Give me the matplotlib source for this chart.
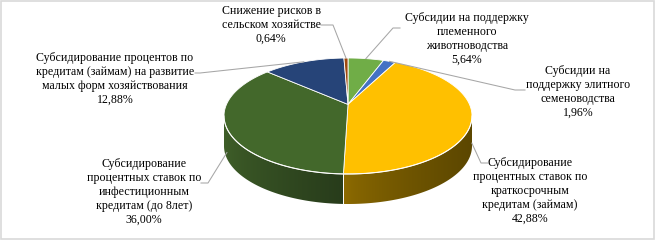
import numpy as np
import matplotlib.pyplot as plt
from matplotlib.colors import to_rgb
from matplotlib.patches import Polygon, Rectangle

plt.rcParams['font.family'] = ['Liberation Serif', 'DejaVu Serif']

# data, clockwise from 12 o'clock
labels = ['Субсидии на поддержку\nплеменного\nживотноводства',
          'Субсидии на\nподдержку элитного\nсеменоводства',
          'Субсидирование\nпроцентных ставок по\nкраткосрочным\nкредитам (займам)',
          'Субсидирование\nпроцентных ставок по\nинфестиционным\nкредитам (до 8лет)',
          'Субсидирование процентов по\nкредитам (займам) на развитие\nмалых форм хозяйствования',
          'Снижение рисков в\nсельском хозяйстве']
values = [5.64, 1.96, 42.88, 36.00, 12.88, 0.64]
top_colors = ['#70AD47', '#4472C4', '#FFC000', '#43682B', '#264478', '#9E480E']
side_light = ['#4F7A32', '#30508A', '#8F6C00', '#3F5F29', '#1B3055', '#70330A']
side_dark = ['#3A5A25', '#233B66', '#5C4700', '#283C1B', '#132440', '#522507']

# layout (pixels, y down)
W, H = 655, 240
cx, cy, rx, ry, depth = 348, 116, 124, 58, 30
persp = 0.2
label_xy = [(467, 39), (578, 92), (530, 191), (144, 192), (115, 79), (271, 25)]
elbows = [[(393, 28), (400, 28)],
          [(515, 90), (525, 90)],
          [(481, 163), (488, 163)],
          [(208, 183), (201, 183)],
          [(200, 73), (195, 73)],
          [(333, 25), (321, 25)]]

def raw(t):
    u, v = np.sin(t), -np.cos(t)
    w = 1 - persp * v
    return u / w, v / w

tt = np.linspace(0, 2 * np.pi, 2000)
X, Y = raw(tt)
xmax, ymin, ymax = X.max(), Y.min(), Y.max()
theta_right = tt[np.argmax(X)]
theta_left = tt[np.argmin(X)]

def pt(t):
    x, y = raw(t)
    sx = cx + rx * x / xmax
    sy = cy + ry * (y - (ymin + ymax) / 2) / ((ymax - ymin) / 2)
    return sx, sy

ox, oy = cx, cy + ry * (0 - (ymin + ymax) / 2) / ((ymax - ymin) / 2)

fig = plt.figure(figsize=(W / 100, H / 100), dpi=100)
ax = fig.add_axes([0, 0, 1, 1])
ax.set_xlim(0, W)
ax.set_ylim(H, 0)
ax.axis('off')

bounds = np.concatenate([[0], np.cumsum(values)]) / 100 * 2 * np.pi

# sides with horizontal gradient
for i in range(len(values)):
    a0 = max(bounds[i], theta_right)
    a1 = min(bounds[i + 1], theta_left)
    if a1 <= a0:
        continue
    ts = np.linspace(a0, a1, 200)
    xs, ys = pt(ts)
    verts = list(zip(xs, ys)) + list(zip(xs[::-1], ys[::-1] + depth))
    poly = Polygon(verts, closed=True, facecolor='none', edgecolor='none')
    ax.add_patch(poly)
    xl, xr = xs.min(), xs.max()
    f = np.linspace(0, 1, 256) ** 0.7
    c1, c2 = np.array(to_rgb(side_light[i])), np.array(to_rgb(side_dark[i]))
    grad = (c1[None, :] * (1 - f[:, None]) + c2[None, :] * f[:, None])[None, :, :]
    im = ax.imshow(grad, extent=(xl, xr, ys.max() + depth + 1, ys.min() - 1),
                   aspect='auto', interpolation='bilinear', zorder=1)
    im.set_clip_path(poly)
    for b in (bounds[i], bounds[i + 1]):
        if theta_right < b < theta_left:
            bx, by = pt(b)
            ax.plot([bx, bx], [by, by + depth], color='white', lw=0.6, zorder=2)

ax.set_xlim(0, W)
ax.set_ylim(H, 0)

# top faces
for i in range(len(values)):
    ts = np.linspace(bounds[i], bounds[i + 1], 200)
    xs, ys = pt(ts)
    verts = [(ox, oy)] + list(zip(xs, ys))
    ax.add_patch(Polygon(verts, closed=True, facecolor=top_colors[i],
                         edgecolor='white', lw=0.6, zorder=3))

# highlight along front rim
ts = np.linspace(theta_right, theta_left, 300)
xs, ys = pt(ts)
ax.plot(xs, ys, color='white', lw=0.8, alpha=0.9, zorder=4)

# labels and leader lines
for i, lab in enumerate(labels):
    pct = ('%.2f' % values[i]).replace('.', ',') + '%'
    ax.text(label_xy[i][0], label_xy[i][1], lab + '\n' + pct, ha='center', va='center',
            fontsize=8.6, color='black', linespacing=1.2, zorder=5)
    mid = (bounds[i] + bounds[i + 1]) / 2
    axp, ayp = pt(mid)
    if theta_right < mid < theta_left:
        ayp += depth * 0.8
    pts = [(axp, ayp)] + elbows[i]
    ax.plot([p[0] for p in pts], [p[1] for p in pts], color='#A6A6A6', lw=0.75, zorder=5)

ax.add_patch(Rectangle((0.5, 0.5), W - 1.5, H - 1.5, fill=False, edgecolor='#D9D9D9', lw=1.2))

fig.savefig('out.png', dpi=100)
